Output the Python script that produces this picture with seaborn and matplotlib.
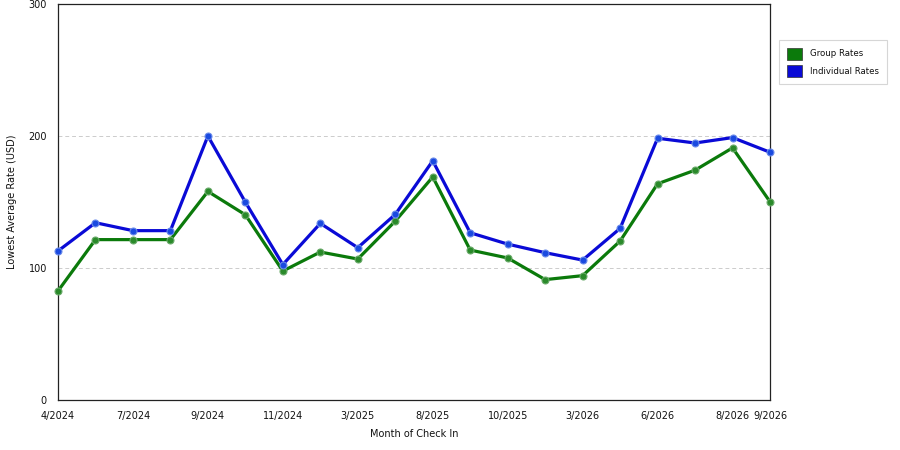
import pandas as pd
import numpy as np
import matplotlib
matplotlib.use("Agg")
import matplotlib.pyplot as plt
import seaborn as sns
from matplotlib.patches import Patch

# Months of check in (only every other one is labelled on the axis)
months = ['4/2024', '5/2024', '7/2024', '8/2024', '9/2024', '10/2024', '11/2024', '1/2025',
          '3/2025', '5/2025', '8/2025', '9/2025', '10/2025', '12/2025', '3/2026', '5/2026',
          '6/2026', '7/2026', '8/2026', '9/2026']
shown_labels = ['4/2024', '7/2024', '9/2024', '11/2024', '3/2025', '8/2025',
                '10/2025', '3/2026', '6/2026', '8/2026', '9/2026']

group_rates = [82.6, 121.5, 121.5, 121.5, 158.0, 140.3, 97.7, 112.1, 106.8, 135.5,
               169.0, 113.6, 107.6, 91.2, 94.2, 120.4, 163.8, 174.1, 191.0, 150.2]
individual_rates = [112.9, 134.3, 128.3, 128.3, 200.0, 149.9, 102.6, 133.8, 115.4, 140.6,
                    181.2, 126.7, 118.1, 111.6, 106.0, 130.0, 198.3, 194.7, 198.8, 187.7]

df = pd.DataFrame({'idx': np.arange(len(months)), 'month': months,
                   'Group Rates': group_rates, 'Individual Rates': individual_rates})

sns.set_style('white')
plt.rcParams['font.family'] = ['DejaVu Sans']
plt.rcParams['text.color'] = '#111111'
plt.rcParams['axes.labelcolor'] = '#111111'
plt.rcParams['xtick.color'] = '#111111'
plt.rcParams['ytick.color'] = '#111111'

fig = plt.figure(figsize=(9, 4.5), dpi=100)
ax = fig.add_axes([58 / 900, 50 / 450, 712 / 900, 396 / 450])

green = '#0b7a0b'
blue = '#0a0ad6'
sns.lineplot(data=df, x='idx', y='Group Rates', ax=ax, color=green, linewidth=2.3,
             marker='o', markersize=5, markerfacecolor='#2a8a2a', markeredgecolor='#6aaa6a',
             markeredgewidth=0.8, clip_on=False, zorder=3)
sns.lineplot(data=df, x='idx', y='Individual Rates', ax=ax, color=blue, linewidth=2.3,
             marker='o', markersize=5, markerfacecolor='#1a4ae0', markeredgecolor='#6a8aea',
             markeredgewidth=0.8, clip_on=False, zorder=3)

ax.set_xlim(0, len(months) - 1)
ax.set_ylim(0, 300)
tick_pos = [months.index(m) for m in shown_labels]
ax.set_xticks(tick_pos)
ax.set_xticklabels(shown_labels, fontsize=7)
ax.set_yticks([0, 100, 200, 300])
ax.set_yticklabels(['0', '100', '200', '300'], fontsize=7)
ax.tick_params(axis='both', direction='out', length=5, width=0.8, color='#333333', pad=3)

for y in [100, 200]:
    ax.axhline(y, color='#cccccc', linestyle=(0, (4, 3)), linewidth=0.7, zorder=1)

for s in ax.spines.values():
    s.set_color('#222222')
    s.set_linewidth(0.9)

ax.set_xlabel('Month of Check In', fontsize=7, labelpad=6)
ax.set_ylabel('Lowest Average Rate (USD)', fontsize=7, labelpad=8)

handles = [Patch(facecolor=green, edgecolor='#333333', linewidth=0.5, label='Group Rates'),
           Patch(facecolor=blue, edgecolor='#333333', linewidth=0.5, label='Individual Rates')]
leg = fig.legend(handles=handles, loc='upper left', bbox_to_anchor=(779 / 900, 1 - 40 / 450),
                 borderaxespad=0, fontsize=6.2, frameon=True, fancybox=False,
                 edgecolor='#cccccc', handlelength=1.75, handleheight=1.75,
                 handletextpad=1.0, borderpad=0.9, labelspacing=0.6)
leg.get_frame().set_linewidth(0.8)

fig.savefig('out.png', dpi=100)
